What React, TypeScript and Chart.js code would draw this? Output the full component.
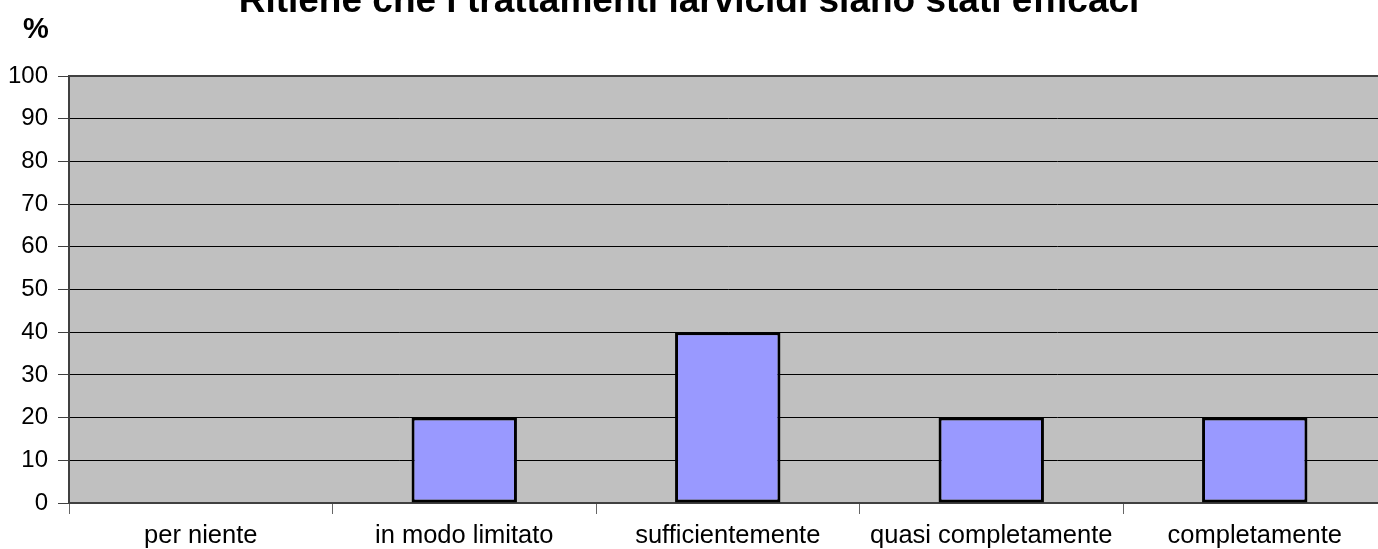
import React, { useEffect, useRef } from "react";
import { Chart, registerables } from "chart.js";

Chart.register(...registerables);

const chartTitle = "Ritiene che i trattamenti larvicidi siano stati efficaci";
const yAxisUnit = "%";
const categories = [
  "per niente",
  "in modo limitato",
  "sufficientemente",
  "quasi completamente",
  "completamente",
];
const percentages = [0, 20, 40, 20, 20];
const yMin = 0;
const yMax = 100;
const yStep = 10;

const FONT = '"Liberation Sans", Arial, sans-serif';

const decorPlugin = {
  id: "decor",
  beforeDraw(chart: any) {
    const { ctx, chartArea } = chart;
    ctx.save();
    ctx.fillStyle = "#ffffff";
    ctx.fillRect(0, 0, chart.width, chart.height);
    ctx.fillStyle = "#c0c0c0";
    ctx.fillRect(chartArea.left, chartArea.top, chartArea.right - chartArea.left, chartArea.bottom - chartArea.top);
    ctx.restore();
  },
  beforeDatasetsDraw(chart: any) {
    const { ctx, chartArea } = chart;
    ctx.save();
    ctx.strokeStyle = "#404040";
    ctx.lineWidth = 2;
    ctx.beginPath();
    ctx.moveTo(chartArea.left, chartArea.top);
    ctx.lineTo(chartArea.right, chartArea.top);
    ctx.stroke();
    ctx.restore();
  },
  afterDraw(chart: any) {
    const { ctx } = chart;
    ctx.save();
    ctx.fillStyle = "#000";
    ctx.textBaseline = "alphabetic";
    ctx.font = `bold 37px ${FONT}`;
    ctx.textAlign = "center";
    ctx.fillText(chartTitle, 689, 12);
    ctx.font = `bold 29px ${FONT}`;
    ctx.textAlign = "left";
    ctx.fillText(yAxisUnit, 23, 38);
    ctx.restore();
  },
};

export default function App() {
  const canvasRef = useRef<HTMLCanvasElement | null>(null);

  useEffect(() => {
    if (!canvasRef.current) return;
    const chart = new Chart(canvasRef.current, {
      type: "bar",
      data: {
        labels: categories,
        datasets: [
          {
            data: percentages,
            backgroundColor: "#9999ff",
            borderColor: "#000000",
            borderWidth: 3,
            borderSkipped: false,
            barPercentage: 0.4,
            categoryPercentage: 1,
          },
        ],
      },
      options: {
        responsive: false,
        animation: false,
        devicePixelRatio: 1,
        layout: { padding: { top: 76, right: 13.5, left: 0, bottom: 0 } },
        plugins: {
          legend: { display: false },
          title: { display: false },
          tooltip: { enabled: false },
        },
        scales: {
          x: {
            afterFit: (s: any) => {
              s.height = 46;
            },
            grid: {
              offset: true,
              drawOnChartArea: false,
              tickLength: 11,
              tickColor: "#666666",
              lineWidth: 1,
            },
            border: { display: true, color: "#404040", width: 2 },
            ticks: {
              color: "#000",
              font: { family: FONT, size: 25.5 },
              padding: 7,
              maxRotation: 0,
              autoSkip: false,
            },
          },
          y: {
            min: yMin,
            max: yMax,
            afterFit: (s: any) => {
              s.width = 69;
            },
            grid: {
              color: "#000000",
              lineWidth: 1,
              tickLength: 11,
              tickColor: "#404040",
            },
            border: { display: true, color: "#404040", width: 2 },
            ticks: {
              stepSize: yStep,
              color: "#000",
              font: { family: FONT, size: 24 },
              padding: 10,
            },
          },
        },
      },
      plugins: [decorPlugin],
    });
    return () => chart.destroy();
  }, []);

  return (
    <div
      style={{
        position: "fixed",
        left: 0,
        top: 0,
        width: 1378,
        height: 549,
        overflow: "hidden",
        background: "#fff",
      }}
    >
      <canvas ref={canvasRef} width={1400} height={549} style={{ display: "block" }} />
    </div>
  );
}
